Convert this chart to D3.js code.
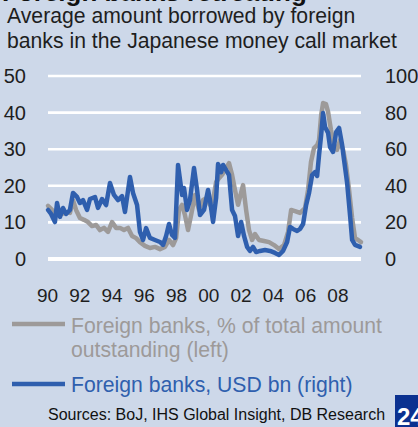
<!DOCTYPE html>
<html>
<head>
<meta charset="utf-8">
<script src="https://cdn.jsdelivr.net/npm/d3@7"></script>
<style>
  html, body { margin: 0; padding: 0; background: #cdd8e9; overflow: hidden; }
  svg { display: block; font-family: "Liberation Sans", Arial, sans-serif; }
</style>
</head>
<body>
<script>
// ---- Data ----
const titleText = "Foreign banks retreating";
const subtitleLines = ["Average amount borrowed by foreign", "banks in the Japanese money call market"];
const leftTicks = [0, 10, 20, 30, 40, 50];
const rightTicks = [0, 20, 40, 60, 80, 100];
const yearTicks = [1990, 1992, 1994, 1996, 1998, 2000, 2002, 2004, 2006, 2008];
const yearLabels = ["90", "92", "94", "96", "98", "00", "02", "04", "06", "08"];

// Foreign banks, % of total amount outstanding (left axis)
const shareYears = [1990.00,1990.25,1990.43,1990.62,1990.87,1991.12,1991.36,1991.55,1991.74,1991.98,
  1992.23,1992.48,1992.73,1992.98,1993.22,1993.47,1993.72,1993.97,1994.22,1994.46,
  1994.71,1994.96,1995.21,1995.46,1995.70,1996.01,1996.32,1996.63,1996.94,1997.25,
  1997.50,1997.75,1997.94,1998.12,1998.31,1998.49,1998.68,1998.87,1999.11,1999.36,
  1999.61,1999.86,2000.04,2000.23,2000.42,2000.60,2000.79,2001.04,2001.22,2001.41,
  2001.59,2001.78,2001.90,2002.09,2002.28,2002.46,2002.65,2002.83,2003.08,2003.39,
  2003.70,2004.01,2004.32,2004.63,2004.88,2005.07,2005.31,2005.62,2005.93,2006.12,
  2006.30,2006.49,2006.68,2006.80,2006.93,2007.05,2007.23,2007.36,2007.54,2007.73,
  2007.92,2008.10,2008.29,2008.47,2008.66,2008.85,2009.03,2009.22,2009.40];
const shareValues = [14.5,13.4,11.5,13.4,12.3,12.8,12.6,16.1,13.4,11.2,
  10.7,10.1,9.0,9.3,7.9,8.5,7.4,10.1,8.5,8.5,
  7.9,8.5,6.3,5.7,4.6,3.6,3.0,3.3,2.7,3.3,
  5.2,3.8,5.7,13.4,14.8,12.0,7.9,12.0,17.5,13.4,
  16.1,16.7,14.8,16.1,21.0,22.1,23.0,24.9,26.2,23.0,
  18.9,14.8,16.9,20.2,13.4,7.9,5.2,6.8,5.2,4.9,
  4.6,3.8,2.7,3.8,7.4,13.4,13.1,12.6,13.9,18.9,
  26.5,30.3,31.1,32.5,39.3,42.6,42.3,40.2,35.2,31.1,
  29.8,32.5,29.8,25.7,18.9,11.2,5.7,5.2,4.6];

// Foreign banks, USD bn (right axis)
const usdYears = [1990.00,1990.19,1990.43,1990.56,1990.74,1990.93,1991.12,1991.36,1991.55,1991.80,
  1991.98,1992.17,1992.42,1992.60,1992.91,1993.10,1993.35,1993.60,1993.84,1994.09,
  1994.34,1994.59,1994.77,1995.08,1995.27,1995.52,1995.70,1995.89,1996.08,1996.32,
  1996.63,1996.94,1997.13,1997.32,1997.50,1997.69,1997.87,1998.06,1998.31,1998.43,
  1998.62,1998.80,1999.05,1999.24,1999.42,1999.67,1999.92,2000.04,2000.23,2000.42,
  2000.54,2000.73,2000.85,2001.04,2001.22,2001.41,2001.59,2001.78,2001.97,2002.15,
  2002.34,2002.52,2002.71,2002.90,2003.14,2003.45,2003.76,2004.07,2004.32,2004.57,
  2004.82,2005.00,2005.19,2005.44,2005.62,2005.81,2006.00,2006.18,2006.37,2006.55,
  2006.68,2006.80,2006.93,2007.05,2007.17,2007.36,2007.48,2007.67,2007.86,2008.04,
  2008.23,2008.35,2008.54,2008.72,2008.85,2009.03,2009.34];
const usdValues = [26.8,24.6,20.2,30.6,23.0,27.9,24.6,26.8,36.1,33.9,
  30.6,32.2,26.8,32.8,33.9,27.9,32.8,29.5,41.5,35.0,
  32.2,34.4,25.7,44.8,36.1,29.5,14.8,10.4,16.9,11.5,
  10.4,9.3,7.7,12.6,19.1,13.1,11.5,51.4,35.0,38.8,
  26.8,32.2,49.7,37.7,24.0,26.8,37.7,32.2,20.2,33.3,
  51.9,47.5,51.4,48.6,45.9,26.8,23.5,12.6,20.2,12.6,
  6.6,4.4,6.6,3.8,4.4,4.9,4.4,3.3,2.2,4.4,
  9.3,17.5,16.4,15.3,16.4,19.1,29.5,36.1,45.9,47.5,
  45.4,56.8,67.8,79.8,72.1,68.9,61.2,58.5,69.4,71.6,
  62.3,54.1,41.5,24.0,10.4,7.7,6.6];

const legendShare = ["Foreign banks, % of total amount", "outstanding (left)"];
const legendUsd = "Foreign banks, USD bn (right)";
const sourceText = "Sources: BoJ, IHS Global Insight, DB Research";
const pageNumber = "24";

// ---- Drawing ----
const W = 418, H = 427;
const grey = "#9d9a99", blue = "#2f5fae", ink = "#1e1e1e";

const svg = d3.select("body").append("svg").attr("width", W).attr("height", H);
svg.append("rect").attr("width", W).attr("height", H).attr("fill", "#cdd8e9");

// Title (cut off at the top edge in the reference)
svg.append("text").attr("x", 2).attr("y", 1)
  .attr("font-size", 26).attr("font-weight", "bold").attr("fill", "#111")
  .text(titleText);

svg.append("g").selectAll("text").data(subtitleLines).join("text")
  .attr("x", 7).attr("y", (d, i) => 23 + i * 25)
  .attr("font-size", 21.2).attr("fill", ink).text(d => d);

const x = d3.scaleLinear().domain([1990, 2009.4]).range([48, 361]);
const yL = d3.scaleLinear().domain([0, 50]).range([259, 76]);
const yR = d3.scaleLinear().domain([0, 100]).range([259, 76]);

// Gridlines
svg.append("g").selectAll("line").data(leftTicks).join("line")
  .attr("x1", 48).attr("x2", 361)
  .attr("y1", d => yL(d)).attr("y2", d => yL(d))
  .attr("stroke", "#ffffff").attr("stroke-width", d => d === 0 ? 4 : 2.6);

// Left axis
const axL = svg.append("g").attr("transform", "translate(26,0)")
  .call(d3.axisLeft(yL).tickValues(leftTicks).tickSize(0).tickPadding(0));
axL.select(".domain").remove();
axL.selectAll("text").attr("font-size", 20).attr("fill", ink)
  .attr("font-family", "Liberation Sans, Arial, sans-serif");

// Right axis
const axR = svg.append("g").attr("transform", "translate(385,0)")
  .call(d3.axisRight(yR).tickValues(rightTicks).tickSize(0).tickPadding(0));
axR.select(".domain").remove();
axR.selectAll("text").attr("font-size", 20).attr("fill", ink)
  .attr("font-family", "Liberation Sans, Arial, sans-serif");

// X axis
const axX = svg.append("g").attr("transform", "translate(-1,288)")
  .call(d3.axisBottom(x).tickValues(yearTicks).tickSize(0).tickPadding(0)
    .tickFormat((d, i) => yearLabels[i]));
axX.select(".domain").remove();
axX.selectAll("text").attr("font-size", 19).attr("fill", ink).attr("dy", "0.72em")
  .attr("font-family", "Liberation Sans, Arial, sans-serif");

// Lines
const shareData = shareYears.map((t, i) => [t, shareValues[i]]);
const usdData = usdYears.map((t, i) => [t, usdValues[i]]);

svg.append("path").datum(shareData)
  .attr("d", d3.line().x(d => x(d[0])).y(d => yL(d[1])))
  .attr("fill", "none").attr("stroke", grey).attr("stroke-width", 4.5)
  .attr("stroke-linejoin", "round").attr("stroke-linecap", "round");

svg.append("path").datum(usdData)
  .attr("d", d3.line().x(d => x(d[0])).y(d => yR(d[1])))
  .attr("fill", "none").attr("stroke", blue).attr("stroke-width", 4.5)
  .attr("stroke-linejoin", "round").attr("stroke-linecap", "round");

// Legend
svg.append("line").attr("x1", 12).attr("x2", 65).attr("y1", 324).attr("y2", 324)
  .attr("stroke", grey).attr("stroke-width", 4.5);
svg.append("g").selectAll("text").data(legendShare).join("text")
  .attr("x", 71).attr("y", (d, i) => 333 + i * 24)
  .attr("font-size", 21.2).attr("fill", grey).text(d => d);
svg.append("line").attr("x1", 12).attr("x2", 65).attr("y1", 384).attr("y2", 384)
  .attr("stroke", blue).attr("stroke-width", 4.5);
svg.append("text").attr("x", 71).attr("y", 392)
  .attr("font-size", 21.2).attr("fill", blue).text(legendUsd);

// Source
svg.append("text").attr("x", 48).attr("y", 420)
  .attr("font-size", 16).attr("fill", "#111").text(sourceText);

// Page number box
svg.append("rect").attr("x", 395).attr("y", 395).attr("width", 30).attr("height", 35)
  .attr("fill", "#0b3190");
svg.append("text").attr("x", 397).attr("y", 425)
  .attr("font-size", 24).attr("font-weight", "bold").attr("fill", "#ffffff").text(pageNumber);
</script>
</body>
</html>
